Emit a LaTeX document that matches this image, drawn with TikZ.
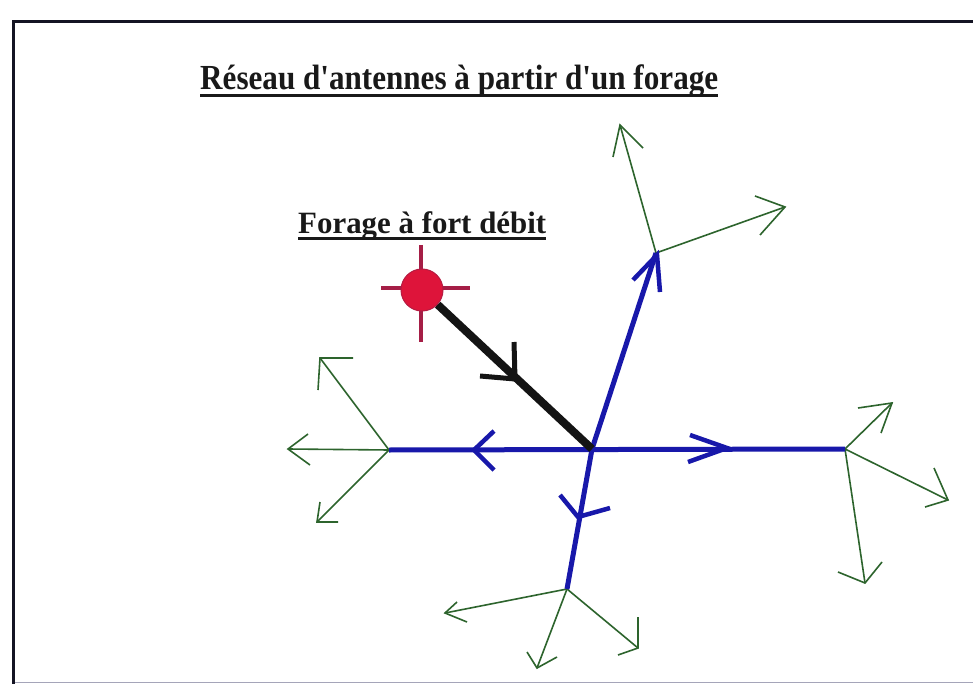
\documentclass[tikz,border=0pt]{standalone}
\usepackage{fontspec}
\setmainfont{Liberation Serif}
\definecolor{myblue}{RGB}{24,24,170}
\definecolor{mygreen}{RGB}{45,100,45}
\definecolor{myred}{RGB}{222,20,58}
\definecolor{myarm}{RGB}{165,30,70}
\definecolor{myframe}{RGB}{20,20,35}
\definecolor{mygray}{RGB}{165,165,185}
\begin{document}
\begin{tikzpicture}[x=1pt,y=-1pt,
  frame/.style={draw=myframe,line width=3pt},
  bottomline/.style={draw=mygray,line width=1.5pt},
  bluel/.style={draw=myblue,line width=5pt},
  bluehead/.style={draw=myblue,line width=4.5pt,line join=miter},
  blackl/.style={draw=black!92,line width=8pt},
  blackhead/.style={draw=black!92,line width=5pt},
  greenl/.style={draw=mygreen,line width=1.6pt},
  redarm/.style={draw=myarm,line width=4pt},
  ttext/.style={inner sep=0pt,anchor=base west,text=black!90},
  uline/.style={draw=black!90,line width=3pt}]
\useasboundingbox (0,0) rectangle (973,684);
\fill[white] (0,0) rectangle (973,684);
% frame
\coordinate (fTR) at (973,22);
\coordinate (fTL) at (13,22);
\coordinate (fBL) at (13,684);
\coordinate (gL) at (13,682.5);
\coordinate (gR) at (973,682.5);
\draw[bottomline] (gL) -- (gR);
\draw[frame] (fTR) -- (fTL) -- (fBL);
% titles
\node[ttext] (title) at (200,90)
  {\resizebox{518pt}{1.1\height}{\fontsize{32}{36}\selectfont\bfseries R\'eseau d\textquotesingle antennes \`a partir d\textquotesingle un forage}};
\draw[uline] ([yshift=-6pt]title.base west) -- ([yshift=-6pt]title.base east);
\node[ttext] (forage) at (298,234)
  {\resizebox{248pt}{\height}{\fontsize{31}{34}\selectfont\bfseries Forage \`a fort d\'ebit}};
\draw[uline] ([yshift=-5pt]forage.base west) -- ([yshift=-5pt]forage.base east);
% main junctions
\coordinate (J) at (592,449);
\coordinate (L) at (389,450);
\coordinate (R) at (845,449);
\coordinate (T) at (656,253);
\coordinate (B) at (567,589);
% green antennas: tips and arms
\coordinate (T1) at (620,125); \coordinate (T1a) at (613,157); \coordinate (T1b) at (643,148);
\coordinate (T2) at (785,207); \coordinate (T2a) at (755,196); \coordinate (T2b) at (760,235);
\coordinate (L1) at (320,358); \coordinate (L1a) at (353,358); \coordinate (L1b) at (318,390);
\coordinate (L2) at (288,449); \coordinate (L2a) at (308,434); \coordinate (L2b) at (310,465);
\coordinate (L3) at (317,522); \coordinate (L3a) at (320,502); \coordinate (L3b) at (338,522);
\coordinate (R1) at (892,403); \coordinate (R1a) at (858,408); \coordinate (R1b) at (881,433);
\coordinate (R2) at (948,500); \coordinate (R2a) at (934,468); \coordinate (R2b) at (925,507);
\coordinate (R3) at (865,583); \coordinate (R3a) at (838,572); \coordinate (R3b) at (882,562);
\coordinate (B1) at (445,613); \coordinate (B1a) at (457,602); \coordinate (B1b) at (467,622);
\coordinate (B2) at (537,668); \coordinate (B2a) at (527,652); \coordinate (B2b) at (557,657);
\coordinate (B3) at (638,648); \coordinate (B3a) at (638,617); \coordinate (B3b) at (618,655);
\foreach \s/\e in {T/T1,T/T2,L/L1,L/L2,L/L3,R/R1,R/R2,R/R3,B/B1,B/B2,B/B3}{
  \draw[greenl] (\s) -- (\e);
  \draw[greenl] (\e a) -- (\e) -- (\e b);
}
% blue network
\draw[bluel] (L) -- (R);
\draw[bluel] (J) -- (T);
\draw[bluel] (J) -- (B);
\coordinate (hU) at (657,255); \coordinate (hUa) at (633,280); \coordinate (hUb) at (660,292);
\coordinate (hL) at (474,450); \coordinate (hLa) at (494,431); \coordinate (hLb) at (494,470);
\coordinate (hR) at (727,448); \coordinate (hRa) at (690,435); \coordinate (hRb) at (688,462);
\coordinate (hD) at (578,517); \coordinate (hDa) at (560,495); \coordinate (hDb) at (610,508);
\foreach \h in {hU,hL,hR,hD}{
  \draw[bluehead] (\h a) -- (\h) -- (\h b);
}
% well
\coordinate (wl) at (381,288); \coordinate (wr) at (470,288);
\coordinate (wt) at (421,245); \coordinate (wb) at (421,342);
\draw[redarm] (wl) -- (wr);
\draw[redarm] (wt) -- (wb);
\node[circle,fill=myred,draw=myarm!70!myred,line width=1pt,minimum size=42pt,inner sep=0pt] (well) at (422,290) {};
\draw[blackl] (well) -- (J);
\coordinate (hK) at (515,379); \coordinate (hKa) at (480,376); \coordinate (hKb) at (514,342);
\draw[blackhead] (hKa) -- (hK) -- (hKb);
\end{tikzpicture}
\end{document}
